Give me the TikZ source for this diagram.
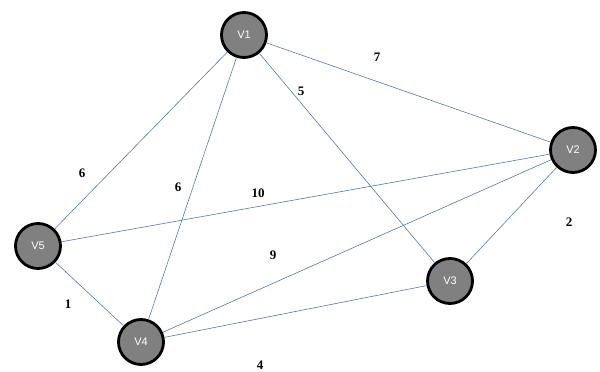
\documentclass[tikz,border=0pt]{standalone}
\usepackage{fontspec}
\usepackage{xcolor}
\usepackage{tikz}
\usetikzlibrary{positioning}
\newfontfamily\vertexfont{Liberation Sans}
\newfontfamily\weightfont{Liberation Serif}
\definecolor{VtxGray}{RGB}{128, 128, 128}
\definecolor{EdgeBlue}{RGB}{90, 122, 160}

\tikzset{
  vtx/.style={circle, fill=VtxGray, draw=black, line width=2.8pt, minimum size=45pt,
    inner sep=0pt, text=white, font=\vertexfont\fontsize{11}{13}\selectfont},
  edge/.style={EdgeBlue, line width=0.6pt},
  wlabel/.style={font=\weightfont\fontsize{13}{15}\selectfont\bfseries, text=black}
}

\begin{document}
\begin{tikzpicture}[x=1pt,y=1pt]
  \path[use as bounding box] (0,0) rectangle (600,372);
  \fill[white] (0,0) rectangle (600,372);
  % vertices
  \node[vtx] (v1) at (244,337) {V1};
  \node[vtx] (v2) at (573,222) {V2};
  \node[vtx] (v3) at (450,91) {V3};
  \node[vtx] (v4) at (141,30) {V4};
  \node[vtx] (v5) at (38,126) {V5};
  % edges
  \foreach \a/\b in {v1/v2,v1/v5,v1/v4,v1/v3,v2/v5,v2/v4,v2/v3,v3/v4,v5/v4}{
    \draw[edge] (\a) -- (\b);
  }
  % weights
  \node[wlabel] (w12) at (377,315) {7};
  \node[wlabel] (w13) at (301,281) {5};
  \node[wlabel] (w15) at (82,199) {6};
  \node[wlabel] (w14) at (178,185) {6};
  \node[wlabel] (w25) at (258,179) {10};
  \node[wlabel] (w24) at (273,117) {9};
  \node[wlabel] (w23) at (569,150) {2};
  \node[wlabel] (w45) at (68,68) {1};
  \node[wlabel] (w34) at (260,7) {4};
\end{tikzpicture}
\end{document}
